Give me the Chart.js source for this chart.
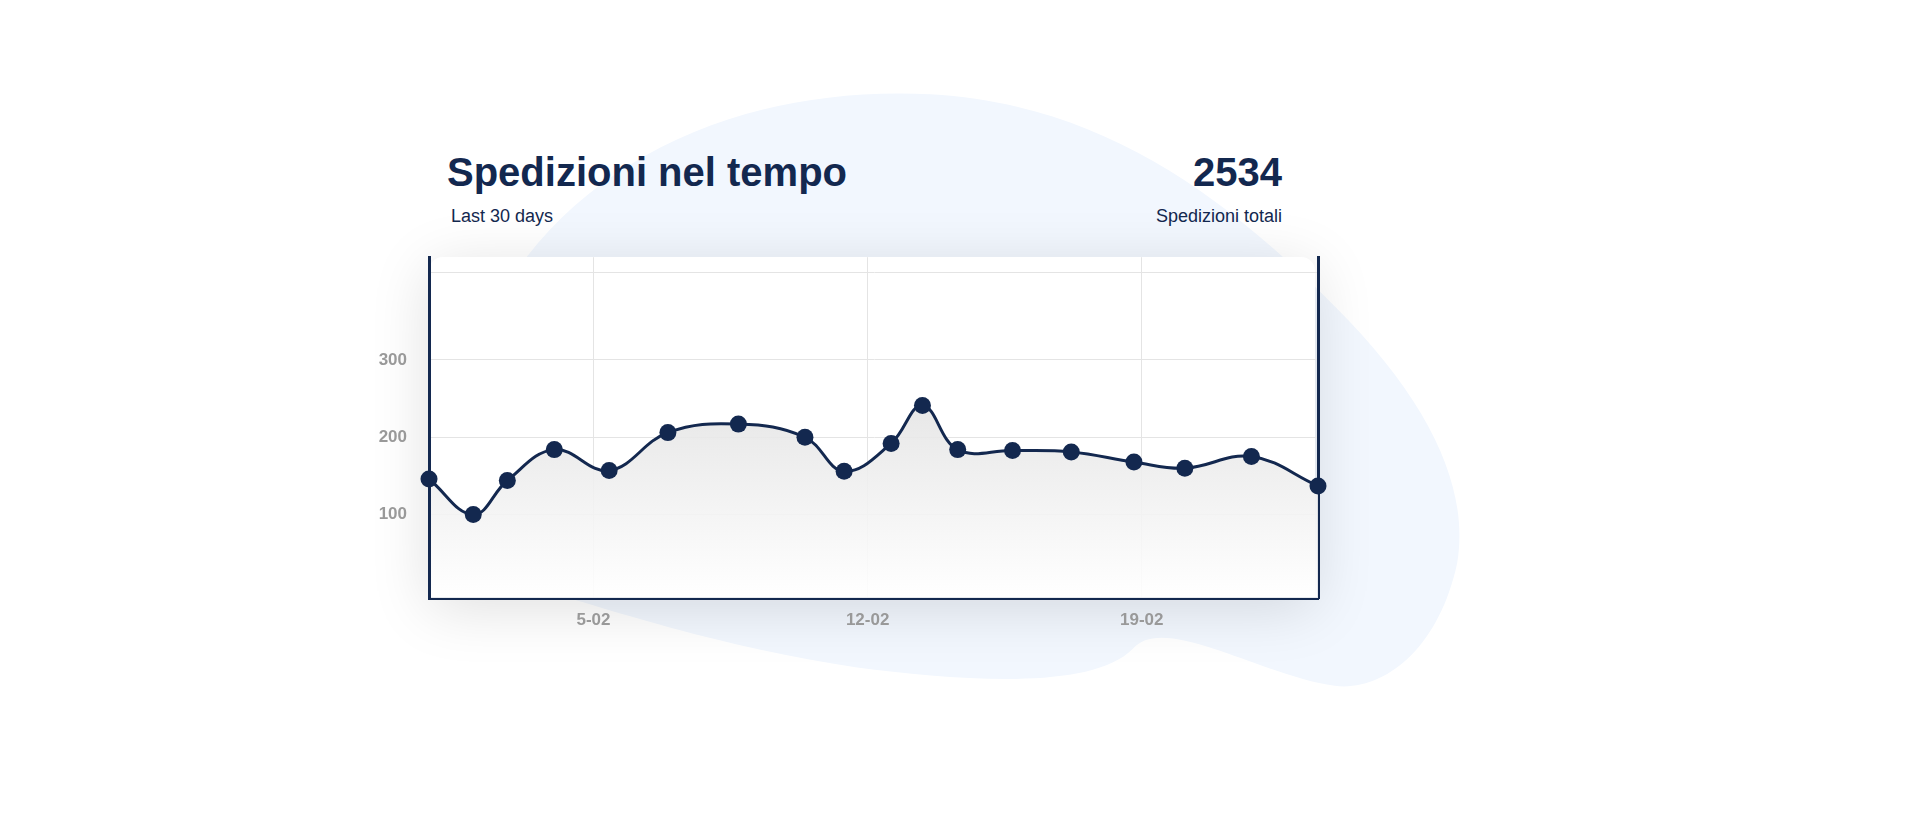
<!DOCTYPE html>
<html>
<head>
<meta charset="utf-8">
<script src="https://cdn.jsdelivr.net/npm/chart.js@4"></script>
<style>
  html, body { margin: 0; width: 1920px; height: 823px; background: #fff; overflow: hidden; font-family: "Liberation Sans", Arial, sans-serif; }
  #blob { position: absolute; left: 0; top: 0; width: 1920px; height: 823px; }
  .title { position: absolute; left: 447px; top: 150px; font-size: 40px; font-weight: bold; color: #13284f; }
  .sub { position: absolute; left: 451px; top: 206px; font-size: 18px; color: #13284f; }
  .total { position: absolute; right: 638px; top: 150px; font-size: 40px; font-weight: bold; color: #13284f; }
  .totsub { position: absolute; right: 638px; top: 206px; font-size: 18px; color: #13284f; }
  #card { position: absolute; left: 429px; top: 257px; width: 886px; height: 341px; background: #fff; border-radius: 14px 14px 0 0; box-shadow: 0 10px 60px rgba(0,0,0,0.13); }
  #wrap { position: absolute; left: 349px; top: 225px; width: 985px; height: 423px; }
</style>
</head>
<body>
<svg id="blob" viewBox="0 0 1568 672" preserveAspectRatio="none">
  <path d="M430,210 C500,120 620,70 760,77 C900,85 1000,160 1090,250 C1170,330 1200,400 1190,460 C1175,530 1130,565 1090,560 C1030,552 950,500 925,530 C890,565 780,555 700,545 C600,530 520,505 470,490 Z" fill="#f2f7fe"/>
</svg>
<div class="title">Spedizioni nel tempo</div>
<div class="sub">Last 30 days</div>
<div class="total">2534</div>
<div class="totsub">Spedizioni totali</div>
<div id="card"></div>
<div id="wrap"><canvas id="spedChart"></canvas></div>
<script>
const giorni = [0.8, 1.93, 2.8, 4.0, 5.4, 6.9, 8.7, 10.4, 11.4, 12.6, 13.4, 14.3, 15.7, 17.2, 18.8, 20.1, 21.8, 23.5];
const spedizioni = [146, 100, 144, 184, 157, 206, 217, 200, 156, 192, 241, 184, 183, 181, 168, 160, 175, 137];
const tickGiorni = [5, 12, 19];
const tickLabels = ["5-02", "12-02", "19-02"];
const tickValori = [100, 200, 300];

const canvas = document.getElementById("spedChart");
const ctx = canvas.getContext("2d");

new Chart(canvas, {
    type: "line",
    data: {
        datasets: [{
            data: giorni.map((g, i) => ({ x: g, y: spedizioni[i] })),
            borderColor: "#13284f",
            borderWidth: 3,
            pointRadius: 8.5,
            pointBackgroundColor: "#13284f",
            pointBorderWidth: 0,
            tension: 0.4,
            clip: false,
            fill: "start",
            backgroundColor: context => {
                const area = context.chart.chartArea;
                if (!area) return "#eee";
                const g = ctx.createLinearGradient(0, area.top + 120, 0, area.bottom);
                g.addColorStop(0, "rgba(225,225,225,0.9)");
                g.addColorStop(1, "rgba(255,255,255,0.9)");
                return g;
            }
        }]
    },
    options: {
        responsive: true,
        maintainAspectRatio: false,
        animation: false,
        layout: { padding: { right: 0, left: 0, top: 32 } },
        plugins: { legend: { display: false }, tooltip: { enabled: false } },
        scales: {
            x: {
                type: "linear",
                min: 0.8,
                max: 23.5,
                afterBuildTicks: axis => { axis.ticks = tickGiorni.map(v => ({ value: v })); },
                afterFit: axis => { axis.height = 50; },
                ticks: {
                    color: "#999",
                    padding: 12,
                    font: { family: "Liberation Sans", size: 17, weight: "bold" },
                    callback: value => tickLabels[tickGiorni.indexOf(value)]
                },
                grid: { color: "#e4e4e4", drawTicks: false },
                border: { color: "#13284f", width: 3 }
            },
            y: {
                min: -8,
                max: 433,
                afterBuildTicks: axis => { axis.ticks = tickValori.concat([413]).map(v => ({ value: v })); },
                afterFit: axis => { axis.width = 80; },
                ticks: {
                    color: "#999",
                    padding: 22,
                    font: { family: "Liberation Sans", size: 17, weight: "bold" },
                    callback: value => (tickValori.includes(value) ? value : "")
                },
                grid: { color: "#e4e4e4", drawTicks: false },
                border: { color: "#13284f", width: 3, z: 1 }
            },
            y2: {
                position: "right",
                min: -8,
                max: 433,
                afterFit: axis => { axis.width = 16; },
                ticks: { display: false },
                grid: { display: false },
                border: { color: "#13284f", width: 3 }
            }
        }
    }
});
</script>
</body>
</html>
